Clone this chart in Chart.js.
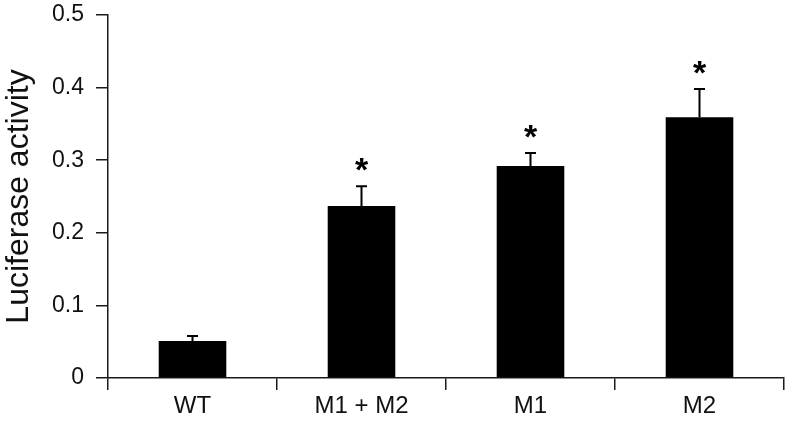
<!DOCTYPE html>
<html>
<head>
<meta charset="utf-8">
<script src="https://cdn.jsdelivr.net/npm/chart.js@4/dist/chart.umd.min.js"></script>
<style>
  html, body { margin: 0; padding: 0; background: #fff; }
  #wrap { width: 787px; height: 424px; }
</style>
</head>
<body>
<div id="wrap"><canvas id="lucChart" width="787" height="424"></canvas></div>
<script>
// Chart data
const categories = ['WT', 'M1 + M2', 'M1', 'M2'];
const activity = [0.051, 0.237, 0.292, 0.359];
const activityErr = [0.007, 0.027, 0.018, 0.039];
const significant = [false, true, true, true];
const yTicks = [0, 0.1, 0.2, 0.3, 0.4, 0.5];

const axisColor = '#1a1a1a';
const fontFamily = '"Liberation Sans", Arial, sans-serif';

// Draws the upper error bars and the asterisks
const errorBarPlugin = {
  id: 'errorBars',
  afterDatasetsDraw(chart) {
    const ctx = chart.ctx;
    const xScale = chart.scales.x;
    const yScale = chart.scales.y;
    ctx.save();
    ctx.strokeStyle = '#000';
    ctx.lineWidth = 2;
    activity.forEach((v, i) => {
      const x = xScale.getPixelForValue(i);
      const yBase = yScale.getPixelForValue(v);
      const yTop = yScale.getPixelForValue(v + activityErr[i]);
      ctx.beginPath();
      ctx.moveTo(x, yBase);
      ctx.lineTo(x, yTop);
      ctx.moveTo(x - 5.5, yTop);
      ctx.lineTo(x + 5.5, yTop);
      ctx.stroke();

      if (significant[i]) {
        ctx.fillStyle = '#000';
        ctx.font = 'bold 34px ' + fontFamily;
        ctx.textAlign = 'center';
        ctx.textBaseline = 'alphabetic';
        ctx.fillText('*', x, yTop - 5);
      }
    });
    ctx.restore();
  }
};

const ctx = document.getElementById('lucChart').getContext('2d');
new Chart(ctx, {
  type: 'bar',
  data: {
    labels: categories,
    datasets: [{
      data: activity,
      backgroundColor: '#000',
      borderWidth: 0,
      categoryPercentage: 1,
      barPercentage: 0.4
    }]
  },
  options: {
    responsive: false,
    devicePixelRatio: 1,
    animation: false,
    layout: { padding: { top: 15, right: 3, left: 0, bottom: 0 } },
    plugins: {
      legend: { display: false },
      tooltip: { enabled: false }
    },
    scales: {
      x: {
        offset: true,
        grid: {
          offset: true,
          drawOnChartArea: false,
          drawTicks: true,
          tickLength: 12,
          color: axisColor,
          lineWidth: 1.5
        },
        border: { display: true, color: axisColor, width: 1.5 },
        ticks: {
          color: '#111',
          padding: 2,
          font: { family: fontFamily, size: 24 }
        },
        afterFit(scale) {
          scale.height = 46;
          scale.paddingLeft = 0;
          scale.paddingRight = 0;
        }
      },
      y: {
        min: 0,
        max: 0.5,
        afterBuildTicks(scale) {
          scale.ticks = yTicks.map(v => ({ value: v }));
        },
        grid: {
          drawOnChartArea: false,
          drawTicks: true,
          tickLength: 12,
          color: axisColor,
          lineWidth: 1.5
        },
        border: { display: true, color: axisColor, width: 1.5 },
        ticks: {
          color: '#111',
          padding: 12,
          font: { family: fontFamily, size: 23 },
          callback: v => (v === 0 ? '0' : v.toFixed(1))
        },
        title: {
          display: true,
          text: 'Luciferase activity',
          color: '#111',
          font: { family: fontFamily, size: 32 },
          padding: { top: 0, bottom: 0 }
        },
        afterFit(scale) {
          scale.width = 108;
          scale.paddingTop = 0;
          scale.paddingBottom = 0;
        }
      }
    }
  },
  plugins: [errorBarPlugin]
});
</script>
</body>
</html>
